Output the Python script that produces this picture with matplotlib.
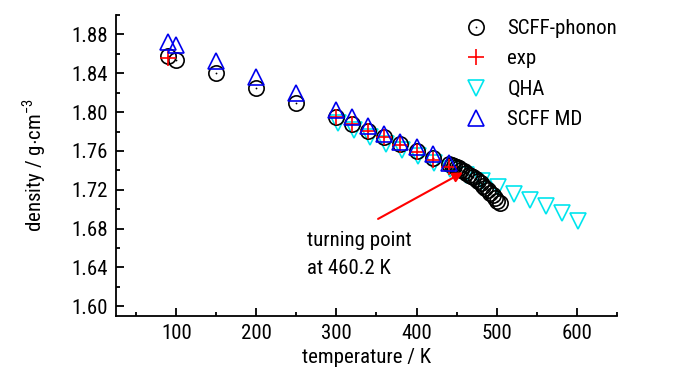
import matplotlib
matplotlib.use("Agg")
import matplotlib.pyplot as plt
from matplotlib.ticker import MultipleLocator
from matplotlib.legend_handler import HandlerTuple
from matplotlib import font_manager

fams = {f.name for f in font_manager.fontManager.ttflist}
fam = 'Liberation Sans'
for cand in ['Liberation Sans Narrow', 'Arial Narrow', 'Arimo Narrow', 'Roboto Condensed',
             'PT Sans Narrow', 'Archivo Narrow', 'Liberation Sans']:
    if cand in fams:
        fam = cand
        break
plt.rcParams['font.family'] = [fam, 'DejaVu Sans']
plt.rcParams['mathtext.fontset'] = 'custom'
plt.rcParams['mathtext.rm'] = fam

# SCFF-phonon
phon_T = [90, 100, 150, 200, 250, 300, 320, 340, 360, 380, 400, 420, 440,
          444, 447, 450, 453, 456, 459, 462, 465, 468, 471, 474, 477, 480,
          483, 486, 489, 492, 495, 498, 501, 504]
phon_v = [1.858, 1.854, 1.840, 1.825, 1.809, 1.795, 1.788, 1.781, 1.774, 1.767, 1.760, 1.753, 1.747,
          1.746, 1.7449, 1.7437, 1.7423, 1.7408, 1.7392, 1.7374, 1.7355, 1.7345, 1.7327, 1.7307, 1.7286, 1.7265,
          1.7243, 1.7220, 1.7195, 1.7170, 1.7144, 1.7116, 1.7088, 1.7060]

# exp
exp_T = [90, 300, 320, 340, 360, 380, 400, 420, 440]
exp_v = [1.856, 1.795, 1.788, 1.781, 1.774, 1.766, 1.759, 1.751, 1.743]

# QHA
qha_T = [302, 322, 342, 362, 382, 402, 422, 442, 462, 482, 502, 522, 542, 562, 582, 602]
qha_v = [1.7888, 1.7819, 1.7743, 1.7667, 1.7605, 1.7543, 1.7480, 1.7417, 1.7354, 1.7290,
         1.7228, 1.7160, 1.7097, 1.7030, 1.6963, 1.6883]

# SCFF MD
md_T = [90, 100, 150, 200, 250, 300, 320, 340, 360, 380, 400, 420, 440]
md_v = [1.872, 1.869, 1.853, 1.836, 1.820, 1.802, 1.795, 1.786, 1.777, 1.769, 1.764, 1.757, 1.748]

fig = plt.figure(figsize=(7.0, 3.74), dpi=100)
ax = fig.add_axes([0.166, 0.155, 0.715, 0.805])

lw = 1.2
h_qha, = ax.plot(qha_T, qha_v, linestyle='none', marker='v', ms=12, mfc='none',
                 mec='#00e5ee', mew=lw, label='QHA')
h_ph, = ax.plot(phon_T, phon_v, linestyle='none', marker='o', ms=11, mfc='none',
                mec='black', mew=lw)
h_dot, = ax.plot(phon_T, phon_v, linestyle='none', marker='o', ms=1.3, mfc='black',
                 mec='black', mew=0)
h_exp, = ax.plot(exp_T, exp_v, linestyle='none', marker='+', ms=12, mec='red',
                 mew=lw, label='exp')
h_md, = ax.plot(md_T, md_v, linestyle='none', marker='^', ms=12, mfc='none',
                mec='#0000ee', mew=lw, label='SCFF MD')

ax.set_xlim(25, 650)
ax.set_ylim(1.59, 1.90)
ax.xaxis.set_minor_locator(MultipleLocator(50))
ax.yaxis.set_minor_locator(MultipleLocator(0.02))
ax.set_xticks([100, 200, 300, 400, 500, 600])
ax.set_yticks([1.60, 1.64, 1.68, 1.72, 1.76, 1.80, 1.84, 1.88])
ax.yaxis.set_major_formatter(plt.FormatStrFormatter('%.2f'))

for s in ['top', 'right']:
    ax.spines[s].set_visible(False)
for s in ['left', 'bottom']:
    ax.spines[s].set_linewidth(1.3)
fs = 15
ax.tick_params(which='major', direction='in', length=6, width=1.3, labelsize=fs, pad=6)
ax.tick_params(which='minor', direction='in', length=3, width=1.3)

ax.set_xlabel('temperature / K', fontsize=fs, labelpad=3)
ax.set_ylabel(r'density / g$\cdot$cm$^{-3}$', fontsize=fs, labelpad=17)

ax.annotate('', xy=(458, 1.738), xytext=(352, 1.690),
            arrowprops=dict(arrowstyle='-|>', color='red', lw=1.5,
                            mutation_scale=15, shrinkA=0, shrinkB=0))
ax.text(263, 1.678, 'turning point\nat 460.2 K', fontsize=fs, va='top', ha='left',
        linespacing=1.6)

leg = ax.legend([(h_ph, h_dot), h_exp, h_qha, h_md],
                ['SCFF-phonon', 'exp', 'QHA', 'SCFF MD'],
                handler_map={tuple: HandlerTuple(ndivide=1, pad=0)},
                loc='upper right', bbox_to_anchor=(1.03, 1.035), frameon=False,
                fontsize=fs, handlelength=1.0, handletextpad=1.0,
                labelspacing=0.55, borderaxespad=0.3)

fig.savefig('out.png', dpi=100)
